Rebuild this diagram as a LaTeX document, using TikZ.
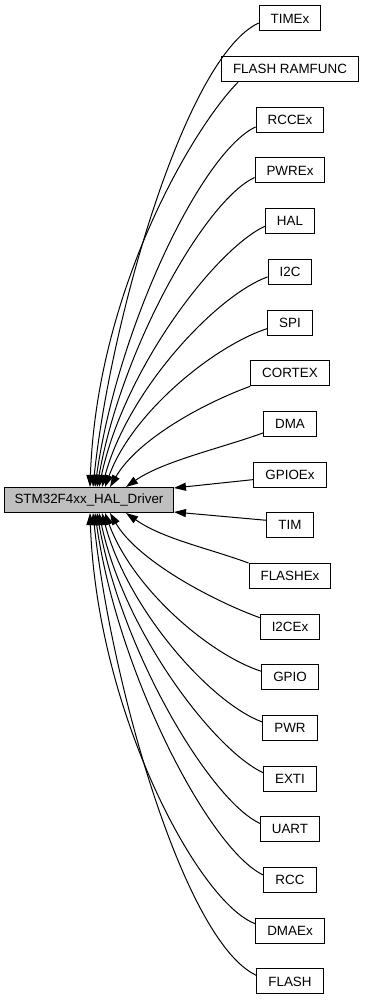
\documentclass[tikz,border=0pt]{standalone}
\usepackage{fontspec}
\setmainfont{Liberation Sans}
\usepackage{xcolor}
\definecolor{grpfill}{HTML}{BFBFBF}
\usetikzlibrary{arrows.meta}
\tikzset{
  grpbox/.style={
    draw=black, fill=white, line width=1pt,
    minimum height=25pt, inner xsep=11.5pt, inner ysep=0pt,
    font=\fontsize{13.4}{16}\selectfont
  },
  grpmain/.style={grpbox, fill=grpfill, inner xsep=10pt},
  grpdep/.style={draw=black, line width=1pt,
                 -{Triangle[length=12pt,width=8pt]}}
}

\begin{document}
\begin{tikzpicture}[x=1pt, y=1pt]
  \useasboundingbox (0,0) rectangle (364,-1000);

  \node[grpmain] (drv) at (89,-500) {STM32F4xx\_HAL\_Driver};

  % module groups, one column on the right
  \node[grpbox] (timex)   at (290,-18.5)  {TIMEx};
  \node[grpbox] (ramfunc) at (290,-69.2)  {FLASH RAMFUNC};
  \node[grpbox] (rccex)   at (290,-119.9) {RCCEx};
  \node[grpbox] (pwrex)   at (290,-170.5) {PWREx};
  \node[grpbox] (hal)     at (290,-221.2) {HAL};
  \node[grpbox] (itwoc)   at (290,-271.9) {I2C};
  \node[grpbox] (spi)     at (290,-322.6) {SPI};
  \node[grpbox] (cortex)  at (290,-373.3) {CORTEX};
  \node[grpbox] (dma)     at (290,-423.9) {DMA};
  \node[grpbox] (gpioex)  at (290,-474.6) {GPIOEx};
  \node[grpbox] (tim)     at (290,-525.3) {TIM};
  \node[grpbox] (flashex) at (290,-576.0) {FLASHEx};
  \node[grpbox] (itwocex) at (290,-626.7) {I2CEx};
  \node[grpbox] (gpio)    at (290,-677.3) {GPIO};
  \node[grpbox] (pwr)     at (290,-728.0) {PWR};
  \node[grpbox] (exti)    at (290,-778.7) {EXTI};
  \node[grpbox] (uart)    at (290,-829.4) {UART};
  \node[grpbox] (rcc)     at (290,-880.1) {RCC};
  \node[grpbox] (dmaex)   at (290,-930.7) {DMAEx};
  \node[grpbox] (flash)   at (290,-981.4) {FLASH};

  % upper half, into the top of the driver box
  \draw[grpdep] ([yshift=-4.5pt]timex.west)
    .. controls +(205:80) and +(84:170) .. ([xshift=4pt]drv.north);
  \draw[grpdep] ([xshift=17pt]ramfunc.south west)
    .. controls +(225:60) and +(88:200) .. ([xshift=1pt]drv.north);
  \draw[grpdep] ([yshift=-7pt]rccex.west)
    .. controls +(205:60) and +(82:160) .. ([xshift=6pt]drv.north);
  \draw[grpdep] ([yshift=-7pt]pwrex.west)
    .. controls +(205:55) and +(80:140) .. ([xshift=8pt]drv.north);
  \draw[grpdep] ([yshift=-5pt]hal.west)
    .. controls +(205:55) and +(78:120) .. ([xshift=10pt]drv.north);
  \draw[grpdep] ([yshift=-5pt]itwoc.west)
    .. controls +(200:55) and +(75:100) .. ([xshift=13pt]drv.north);
  \draw[grpdep] ([yshift=-6pt]spi.west)
    .. controls +(198:55) and +(70:80) .. ([xshift=16pt]drv.north);
  \draw[grpdep] (cortex.south west)
    .. controls +(200:50) and +(60:55) .. ([xshift=21pt]drv.north);
  \draw[grpdep] ([yshift=-9pt]dma.west)
    .. controls +(200:45) and +(35:45) .. ([xshift=37pt]drv.north);
  \draw[grpdep] ([yshift=-5pt]gpioex.west) -- ([yshift=-1pt]drv.north east);

  % lower half, into the bottom of the driver box
  \draw[grpdep] ([yshift=5pt]tim.west) -- ([yshift=1pt]drv.south east);
  \draw[grpdep] (flashex.north west)
    .. controls +(160:45) and +(-35:45) .. ([xshift=37pt]drv.south);
  \draw[grpdep] ([yshift=9pt]itwocex.west)
    .. controls +(160:50) and +(-60:55) .. ([xshift=21pt]drv.south);
  \draw[grpdep] ([yshift=6pt]gpio.west)
    .. controls +(162:55) and +(-70:80) .. ([xshift=16pt]drv.south);
  \draw[grpdep] ([yshift=6pt]pwr.west)
    .. controls +(160:55) and +(-75:100) .. ([xshift=13pt]drv.south);
  \draw[grpdep] ([yshift=6pt]exti.west)
    .. controls +(155:55) and +(-78:120) .. ([xshift=10pt]drv.south);
  \draw[grpdep] ([yshift=6pt]uart.west)
    .. controls +(155:55) and +(-80:140) .. ([xshift=8pt]drv.south);
  \draw[grpdep] ([yshift=5pt]rcc.west)
    .. controls +(155:60) and +(-82:160) .. ([xshift=6pt]drv.south);
  \draw[grpdep] ([yshift=7pt]dmaex.west)
    .. controls +(160:60) and +(-88:200) .. ([xshift=1pt]drv.south);
  \draw[grpdep] ([yshift=6pt]flash.west)
    .. controls +(155:80) and +(-84:170) .. ([xshift=4pt]drv.south);
\end{tikzpicture}
\end{document}
